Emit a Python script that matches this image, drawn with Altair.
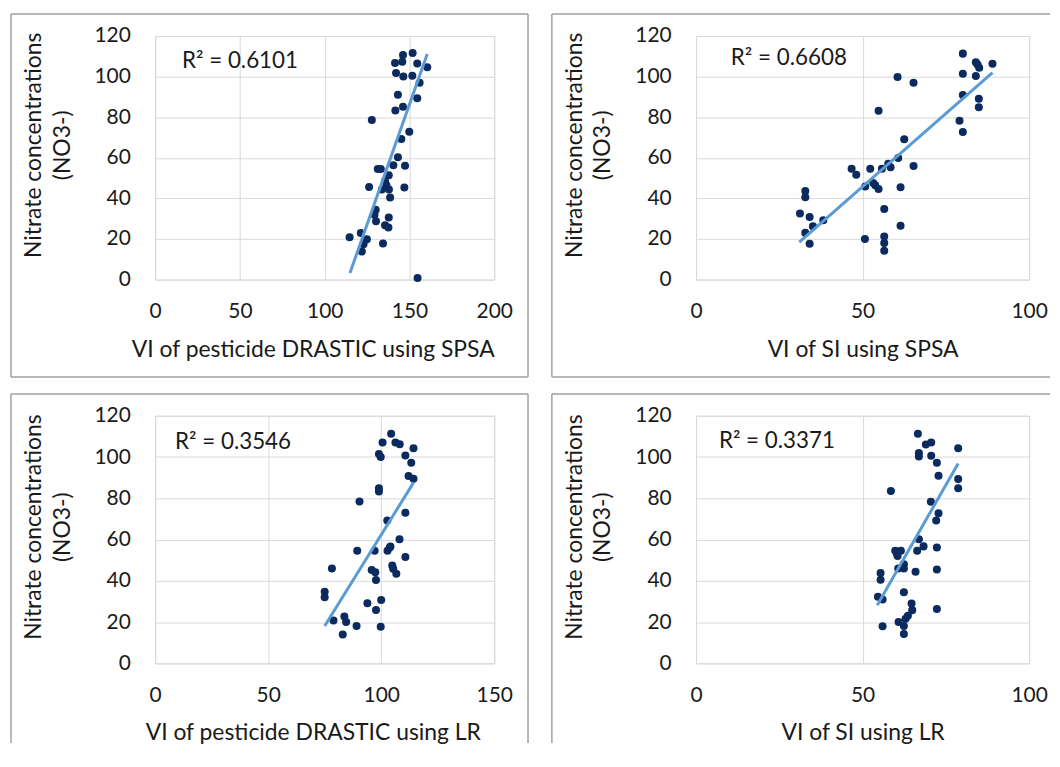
import altair as alt
import pandas as pd

# ---------------- data ----------------
p1_x = [114.7, 121.3, 121.9, 122.9, 124.9, 127.8, 126.2, 130.1, 129.4, 130.3,
        134.4, 135.6, 137.8, 137.6, 131.3, 133.1, 137.8, 135.6, 136.4, 133.7,
        137.9, 138.6, 140.5, 143.2, 145.2, 147.4, 147.0, 149.9, 141.7, 146.2,
        143.2, 154.6, 156.0, 142.1, 146.4, 151.7, 141.5, 145.8, 146.2, 151.9,
        154.6, 160.5, 154.8]
p1_y = [20.8, 22.9, 13.8, 17.4, 19.8, 78.6, 45.6, 34.4, 31.9, 28.7,
        17.8, 26.8, 30.6, 25.6, 54.5, 54.5, 51.4, 48.5, 46.5, 44.4,
        44.4, 40.4, 56.3, 60.2, 69.2, 56.1, 45.4, 72.8, 83.3, 85.1,
        91.0, 89.3, 97.0, 101.8, 100.0, 100.4, 106.7, 107.3, 110.6, 111.6,
        106.4, 104.6, 0.8]

p2_x = [31.2, 32.8, 32.8, 32.8, 34.1, 34.1, 35.1, 38.2, 46.7, 48.1,
        50.8, 50.7, 52.3, 53.2, 53.8, 54.8, 54.8, 55.8, 56.5, 56.5,
        56.5, 56.5, 57.7, 58.4, 60.7, 60.5, 61.4, 61.4, 62.5, 65.3,
        65.3, 79.1, 80.1, 80.1, 80.1, 80.1, 84.0, 84.0, 84.5, 85.0,
        84.9, 84.9, 89.0]
p2_y = [32.6, 43.6, 40.6, 23.0, 30.8, 17.7, 26.2, 29.2, 54.6, 51.6,
        45.8, 20.0, 54.6, 47.6, 46.5, 44.6, 83.2, 54.6, 34.8, 21.2,
        18.0, 14.2, 57.0, 55.3, 59.9, 99.8, 45.5, 26.5, 69.1, 56.0,
        96.9, 78.2, 72.7, 90.9, 101.4, 111.3, 100.3, 107.1, 106.0, 104.3,
        89.1, 84.9, 106.3]

p3_x = [75.0, 75.0, 78.2, 78.9, 83.7, 84.5, 83.0, 89.1, 89.4, 90.4,
        93.9, 97.7, 95.8, 97.4, 97.7, 97.1, 100.0, 99.8, 99.0, 99.8,
        99.0, 99.0, 100.6, 102.7, 102.8, 103.8, 104.1, 104.9, 105.3, 106.7,
        104.4, 106.3, 108.2, 108.1, 110.7, 110.7, 110.7, 112.1, 113.3, 114.3,
        114.3]
p3_y = [34.7, 32.0, 46.0, 20.8, 22.7, 20.0, 14.0, 18.1, 54.6, 78.4,
        29.1, 25.9, 45.3, 44.2, 40.4, 54.6, 30.7, 17.7, 101.5, 100.0,
        84.9, 83.3, 107.0, 69.3, 54.6, 56.1, 56.6, 47.4, 45.8, 43.4,
        111.3, 107.0, 106.2, 60.1, 100.7, 73.0, 51.5, 90.8, 97.2, 104.3,
        89.5]

p4_x = [54.6, 55.4, 55.4, 56.0, 56.0, 58.5, 59.8, 60.3, 60.5, 61.5,
        60.7, 62.4, 62.4, 60.8, 62.4, 62.4, 62.4, 62.9, 63.6, 64.7,
        64.9, 65.9, 66.6, 66.9, 66.4, 66.9, 66.9, 68.3, 69.0, 70.6,
        70.5, 70.6, 72.1, 72.3, 72.3, 72.3, 72.3, 72.8, 72.8, 78.7,
        78.7, 78.7]
p4_y = [32.3, 43.8, 40.5, 31.0, 18.0, 83.5, 54.6, 53.1, 52.0, 54.6,
        46.0, 48.0, 46.0, 20.0, 34.5, 18.1, 14.2, 21.6, 23.1, 29.0,
        25.8, 44.4, 111.3, 60.2, 54.6, 100.3, 101.9, 56.7, 106.1, 107.1,
        78.3, 100.6, 69.3, 97.2, 56.2, 45.5, 26.3, 72.8, 90.9, 104.3,
        89.3, 84.9]

# linear trendline end points (as drawn in the reference)
t1_x = [114.9, 160.5]
t1_y = [3.2, 111.1]
t2_x = [31.0, 89.0]
t2_y = [18.5, 102.0]
t3_x = [75.0, 114.3]
t3_y = [18.1, 87.6]
t4_x = [54.4, 78.7]
t4_y = [28.2, 96.9]

x_titles = ["VI of pesticide DRASTIC using SPSA", "VI of SI using SPSA",
            "VI of pesticide DRASTIC using LR", "VI of SI using LR"]
x_max = [200, 100, 150, 100]
r2_labels = ["R\u00b2 = 0.6101", "R\u00b2 = 0.6608", "R\u00b2 = 0.3546", "R\u00b2 = 0.3371"]
y_title = ["Nitrate concentrations", "(NO3-)"]

# ---------------- style ----------------
FONT = "Lato"
DOT = "#0b2a5e"
LINE = "#5b9bd5"
GRID = "#d9d9d9"
FRAME = "#a0a0a0"
TXT = "#1a1a1a"

W_L = 341
W_R = 335
H_TOP = 245
H_BOT = 249


def panel(xs, ys, tx, ty, xmax, xtitle, r2, r2pos, right_col, bottom_row, h):
    w = W_R if right_col else W_L
    df = pd.DataFrame({"x": xs, "y": ys})
    tdf = pd.DataFrame({"x": tx, "y": ty})
    xs_ = alt.Scale(domain=[0, xmax], nice=False, zero=True)
    ys_ = alt.Scale(domain=[0, 120], nice=False)
    xaxis = alt.Axis(values=list(range(0, xmax + 1, 50)), title=xtitle, grid=True,
                     ticks=False, tickSize=0, domain=False, labelPadding=21,
                     labelFlush=False, titlePadding=17,
                     titleX=(w / 2 if right_col else w / 2 - 12))
    yaxis = alt.Axis(values=list(range(0, 121, 20)), title=y_title, grid=True,
                     ticks=False, tickSize=0, domain=False, labelPadding=25,
                     labelFlush=False, titlePadding=20, titleY=h / 2 - 13)
    pts = alt.Chart(df).mark_circle(size=65, color=DOT, opacity=1).encode(
        x=alt.X("x:Q", scale=xs_, axis=xaxis),
        y=alt.Y("y:Q", scale=ys_, axis=yaxis),
    )
    trend = alt.Chart(tdf).mark_line(color=LINE, strokeWidth=3).encode(
        x="x:Q", y="y:Q")
    lab = alt.Chart(pd.DataFrame({"t": [r2]})).mark_text(
        align="left", baseline="middle", fontSize=22.5, font=FONT, color=TXT
    ).encode(x=alt.value(r2pos[0]), y=alt.value(r2pos[1]), text="t:N")

    one = pd.DataFrame({"a": [0]})
    L, T = -145, -22
    R = w + (21 if right_col else 34)
    B = h + (80 if bottom_row else 98)
    rules = [
        alt.Chart(one).mark_rule(color=FRAME, strokeWidth=1.5).encode(
            x=alt.value(L), x2=alt.value(R), y=alt.value(T)),
        alt.Chart(one).mark_rule(color=FRAME, strokeWidth=1.5).encode(
            x=alt.value(L), y=alt.value(T), y2=alt.value(B)),
    ]
    if not right_col:
        rules.append(alt.Chart(one).mark_rule(color=FRAME, strokeWidth=1.5).encode(
            x=alt.value(R), y=alt.value(T), y2=alt.value(B)))
    if not bottom_row:
        rules.append(alt.Chart(one).mark_rule(color=FRAME, strokeWidth=1.5).encode(
            x=alt.value(L), x2=alt.value(R), y=alt.value(B)))
    return alt.layer(*rules, pts, trend, lab).properties(width=w, height=h)


c1 = panel(p1_x, p1_y, t1_x, t1_y, x_max[0], x_titles[0], r2_labels[0], (27, 25), False, False, H_TOP)
c2 = panel(p2_x, p2_y, t2_x, t2_y, x_max[1], x_titles[1], r2_labels[1], (35, 22), True, False, H_TOP)
c3 = panel(p3_x, p3_y, t3_x, t3_y, x_max[2], x_titles[2], r2_labels[2], (20, 26), False, True, H_BOT)
c4 = panel(p4_x, p4_y, t4_x, t4_y, x_max[3], x_titles[3], r2_labels[3], (23, 25), True, True, H_BOT)

chart = alt.vconcat(
    alt.hconcat(c1, c2, spacing=20),
    alt.hconcat(c3, c4, spacing=20),
    spacing=13,
).properties(
    padding={"left": 1, "top": 2, "right": 0, "bottom": 0},
    background="white",
).configure_view(
    stroke=GRID, strokeWidth=1
).configure_axis(
    gridColor=GRID, gridWidth=1,
    labelFont=FONT, labelFontSize=21, labelColor=TXT,
    titleFont=FONT, titleFontSize=23, titleColor=TXT, titleFontWeight="normal",
    titleLineHeight=29,
)

chart.save("out.html", embed_options={"renderer": "svg", "actions": False})
